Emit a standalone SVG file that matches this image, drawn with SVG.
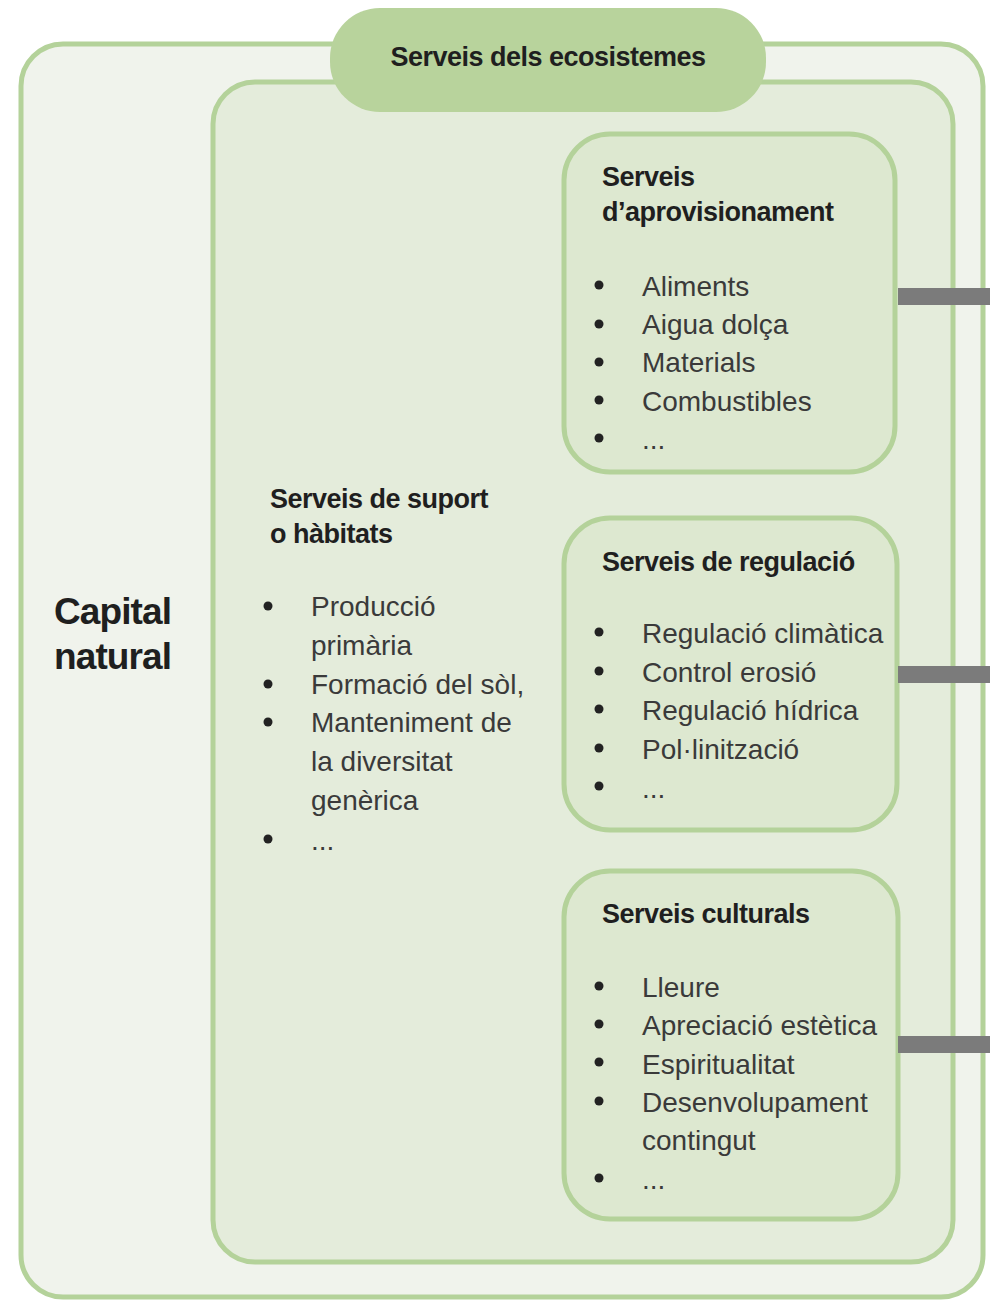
<svg xmlns="http://www.w3.org/2000/svg" width="990" height="1301" viewBox="0 0 990 1301">
<style>
.box{stroke:#b4d29a;stroke-width:5}
.h{font-family:"Liberation Sans",Arial,sans-serif;font-weight:bold;fill:#1f1f1f;font-size:27px;letter-spacing:-0.5px}
.t{font-family:"Liberation Sans",Arial,sans-serif;fill:#3a3a3a;font-size:28px}
.b{fill:#222}
.bar{fill:#7b7b7b}
</style>
<rect width="990" height="1301" fill="#ffffff"/>
<g id="capital-natural">
<rect class="box" x="21" y="44" width="962" height="1253" rx="42" fill="#f0f3ec"/>
<text class="h" x="54" y="624" style="font-size:37px;letter-spacing:-0.9px">Capital</text>
<text class="h" x="54" y="669" style="font-size:37px;letter-spacing:-0.9px">natural</text>
</g>
<g id="serveis-ecosistemes">
<rect class="box" x="213" y="82" width="740" height="1180" rx="42" fill="#e4ecdb"/>
<rect x="330" y="8" width="436" height="104" rx="50" fill="#b8d39c"/>
<text class="h" x="548" y="66" text-anchor="middle">Serveis dels ecosistemes</text>
</g>
<g id="suport">
<text class="h" x="270" y="508">Serveis de suport</text>
<text class="h" x="270" y="543">o hàbitats</text>
<g class="b"><circle cx="268" cy="606" r="4.5"/><circle cx="268" cy="684" r="4.5"/><circle cx="268" cy="722" r="4.5"/><circle cx="268" cy="839" r="4.5"/></g>
<text class="t" x="311" y="616">Producció</text>
<text class="t" x="311" y="655">primària</text>
<text class="t" x="311" y="694">Formació del sòl,</text>
<text class="t" x="311" y="732">Manteniment de</text>
<text class="t" x="311" y="771">la diversitat</text>
<text class="t" x="311" y="810">genèrica</text>
<text class="t" x="311" y="850">...</text>
</g>
<g id="aprovisionament">
<rect class="box" x="564" y="134" width="331" height="338" rx="46" fill="#dde8d0"/>
<text class="h" x="602" y="186">Serveis</text>
<text class="h" x="602" y="221">d’aprovisionament</text>
<g class="b"><circle cx="599" cy="285" r="4.5"/><circle cx="599" cy="324" r="4.5"/><circle cx="599" cy="362" r="4.5"/><circle cx="599" cy="400" r="4.5"/><circle cx="599" cy="438" r="4.5"/></g>
<text class="t" x="642" y="296">Aliments</text>
<text class="t" x="642" y="334">Aigua dolça</text>
<text class="t" x="642" y="372">Materials</text>
<text class="t" x="642" y="411">Combustibles</text>
<text class="t" x="642" y="449">...</text>
</g>
<g id="regulacio">
<rect class="box" x="564" y="518" width="333" height="312" rx="46" fill="#dde8d0"/>
<text class="h" x="602" y="571">Serveis de regulació</text>
<g class="b"><circle cx="599" cy="632" r="4.5"/><circle cx="599" cy="671" r="4.5"/><circle cx="599" cy="709" r="4.5"/><circle cx="599" cy="748" r="4.5"/><circle cx="599" cy="786" r="4.5"/></g>
<text class="t" x="642" y="643">Regulació climàtica</text>
<text class="t" x="642" y="682">Control erosió</text>
<text class="t" x="642" y="720">Regulació hídrica</text>
<text class="t" x="642" y="759">Pol·linització</text>
<text class="t" x="642" y="798">...</text>
</g>
<g id="culturals">
<rect class="box" x="564" y="871" width="334" height="348" rx="46" fill="#dde8d0"/>
<text class="h" x="602" y="923">Serveis culturals</text>
<g class="b"><circle cx="599" cy="986" r="4.5"/><circle cx="599" cy="1024" r="4.5"/><circle cx="599" cy="1062" r="4.5"/><circle cx="599" cy="1101" r="4.5"/><circle cx="599" cy="1178" r="4.5"/></g>
<text class="t" x="642" y="997">Lleure</text>
<text class="t" x="642" y="1035">Apreciació estètica</text>
<text class="t" x="642" y="1074">Espiritualitat</text>
<text class="t" x="642" y="1112">Desenvolupament</text>
<text class="t" x="642" y="1150">contingut</text>
<text class="t" x="642" y="1189">...</text>
</g>
<g id="connectors">
<rect class="bar" x="898" y="288" width="92" height="17"/>
<rect class="bar" x="898" y="666" width="92" height="17"/>
<rect class="bar" x="898" y="1036" width="92" height="17"/>
</g>
</svg>
